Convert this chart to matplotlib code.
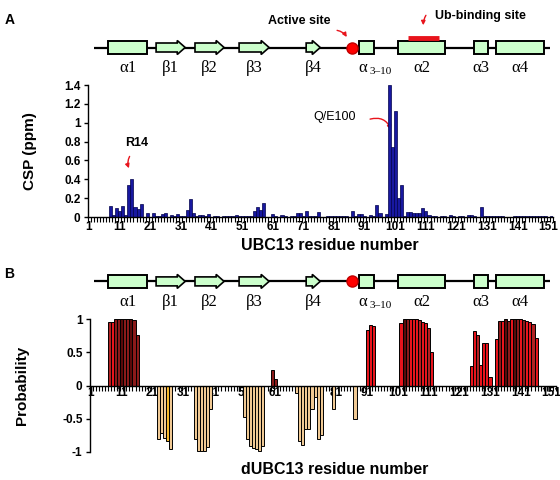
import numpy as np
import matplotlib
matplotlib.use('Agg')
import matplotlib.pyplot as plt
from matplotlib.patches import Rectangle, Polygon, FancyArrowPatch

# ---------------- data ----------------
residues = np.arange(1, 153)

csp_values = [
    0, 0, 0, 0, 0, 0, 0,
    0.12, 0.02, 0.10, 0.06, 0.12, 0.02, 0.34, 0.40, 0.11, 0.085,
    0.14, 0.0, 0.045, 0.0, 0.045, 0.015, 0.01, 0.03, 0.045, 0.0,
    0.025, 0.01, 0.035, 0.01, 0.01, 0.075, 0.19, 0.045, 0.01, 0.02,
    0.02, 0.01, 0.035, 0.0, 0.01, 0.01, 0.0, 0.01, 0.01, 0.01,
    0.01, 0.02, 0.01, 0.01, 0.01, 0.01, 0.01, 0.06, 0.105, 0.07,
    0.15, 0.0, 0.0, 0.035, 0.01, 0.0, 0.02, 0.01, 0.0, 0.01,
    0.01, 0.04, 0.04, 0.01, 0.06, 0.015, 0.015, 0.015, 0.05, 0.0,
    0.0, 0.01, 0.01, 0.015, 0.01, 0.01, 0.01, 0.01, 0.0, 0.06,
    0.01, 0.035, 0.035, 0.01, 0.0, 0.02, 0.01, 0.13, 0.04, 0.0,
    0.03, 1.40, 0.74, 1.12, 0.20, 0.34, 0.01, 0.05, 0.05, 0.04,
    0.04, 0.04, 0.10, 0.06, 0.02, 0.01, 0.01, 0.0, 0.01, 0.01,
    0.0, 0.02, 0.01, 0.0, 0.01, 0.01, 0.0, 0.02, 0.02, 0.01,
    0.0, 0.11, 0.01, 0.01, 0.01, 0.01, 0.01, 0.01, 0.01, 0.0,
    0.0, 0.0, 0.01, 0.01, 0.01, 0.01, 0.01, 0.01, 0.01, 0.01,
    0.01, 0.01, 0.01, 0.0, 0.01,
]

prob_values = (
    [0] * 6
    + [0.95, 0.95, 1, 1, 1, 1, 1, 1, 0.98, 0.76]
    + [0] * 6
    + [-0.81, -0.72, -0.79, -0.84, -0.96]
    + [0] * 7
    + [-0.81, -0.99, -0.99, -0.99, -0.92, -0.35]
    + [0] * 10
    + [-0.47, -0.80, -0.91, -0.94, -0.95, -0.98, -0.91]
    + [0] * 2
    + [0.24, 0.10]
    + [0] * 6
    + [-0.11, -0.84, -0.89, -0.65, -0.66, -0.35, -0.17, -0.80, -0.74]
    + [0] * 3
    + [-0.35]
    + [0] * 6
    + [-0.50]
    + [0] * 3
    + [0.84, 0.91, 0.90]
    + [0] * 8
    + [0.94, 1, 1, 1, 1, 1, 0.98, 0.95, 0.94, 0.86, 0.51]
    + [0] * 12
    + [0.30, 0.82, 0.76, 0.31, 0.64, 0.64, 0.125]
    + [0] * 1
    + [0.70, 0.97, 0.97, 1, 0.97, 1, 1, 1, 1, 0.98, 0.97, 0.96, 0.93, 0.71]
    + [0] * 6
)

prob_color_codes = (
    '......' + 'brmmdmmdmm' + '......' + 'tttgt' + '.......' + 'tttttt'
    + '..........' + 'ttttttt' + '..' + 'mm' + '......' + 'ttttttttt'
    + '...' + 't' + '......' + 't' + '...' + 'rrr' + '........'
    + 'rdmrrrbrrbr' + '............' + 'rrbrrrr' + '.'
    + 'rmrdmrdmrmrrbr' + '......'
)

x_tick_positions = list(range(1, 152, 10))
x_tick_labels = [str(v) for v in x_tick_positions]
csp_yticks = [0, 0.2, 0.4, 0.6, 0.8, 1.0, 1.2, 1.4]
csp_ytick_labels = ['0', '0.2', '0.4', '0.6', '0.8', '1', '1.2', '1.4']
prob_yticks = [-1, -0.5, 0, 0.5, 1]
prob_ytick_labels = ['-1', '-0.5', '0', '0.5', '1']

# secondary structure (residue units)
ss_labels = ['α1', 'β1', 'β2', 'β3', 'β4', 'α', 'α2', 'α3', 'α4']
ss_kinds = ['helix', 'strand', 'strand', 'strand', 'strand', 'helix', 'helix', 'helix', 'helix']
ss_start = [7.2, 22.9, 35.6, 50.0, 71.9, 89.2, 102.0, 126.8, 134.0]
ss_end = [20.0, 32.4, 45.1, 59.8, 76.5, 94.1, 117.3, 131.4, 149.7]
active_site_residue = 86.9
ub_site_range = [105.2, 115.4]
chain_range = [2.5, 151.5]

# ---------------- styling ----------------
plt.rcParams['font.family'] = ['Liberation Sans', 'DejaVu Sans']
palette = {'r': '#E8141C', 'm': '#8B1A1A', 'd': '#5A0A0A', 'b': '#B22222',
           't': '#F0C994', 'g': '#F5B82E', '.': 'none'}
SERIF = ['Liberation Serif', 'DejaVu Serif']
RED = '#E8141C'

W, H = 560, 480
fig = plt.figure(figsize=(W / 100, H / 100), dpi=100)
fig.patch.set_facecolor('white')


def px_axes(x0, x1, y0, y1):
    return fig.add_axes([x0 / W, 1 - y1 / H, (x1 - x0) / W, (y1 - y0) / H])


def fig_text(x, y, s, **kw):
    fig.text(x / W, 1 - y / H, s, **kw)


XLIM = (0.5, 152.5)


def style_axis(ax, yticks, ylabels, xpad):
    ax.set_xlim(*XLIM)
    for s in ['top', 'right']:
        ax.spines[s].set_visible(False)
    for s in ['left', 'bottom']:
        ax.spines[s].set_linewidth(1.0)
    ax.set_yticks(yticks)
    ax.set_yticklabels(ylabels)
    ax.set_xticks(x_tick_positions)
    ax.set_xticklabels(x_tick_labels)
    ax.set_xticks(np.arange(0.5, 153, 1), minor=True)
    ax.tick_params(axis='x', which='major', length=0, pad=xpad, labelsize=8.5)
    ax.tick_params(axis='x', which='minor', length=3.5, width=0.8, direction='out')
    ax.tick_params(axis='y', which='major', length=3, width=1, pad=2, labelsize=8.5)
    for lab in ax.get_xticklabels() + ax.get_yticklabels():
        lab.set_fontweight('bold')


# ---------------- Panel A ----------------
axA = px_axes(87.5, 553, 85, 217)
axA.bar(residues, csp_values, width=1.0, color='#1818a0', edgecolor='#00004a',
        linewidth=0.5, zorder=2)
axA.set_ylim(0, 1.4)
style_axis(axA, csp_yticks, csp_ytick_labels, xpad=3)

axA.text(16.4, 0.785, 'R14', ha='center', va='center', fontsize=9, fontweight='bold')
axA.add_patch(FancyArrowPatch((14.7, 0.668), (14.4, 0.49), arrowstyle='-|>',
                              mutation_scale=6, color=RED, lw=1,
                              connectionstyle='arc3,rad=0.3'))
axA.text(81.1, 1.06, 'Q/E100', ha='center', va='center', fontsize=9)
axA.add_patch(FancyArrowPatch((91.9, 1.03), (99.9, 0.9), arrowstyle='-|>',
                              mutation_scale=6, color=RED, lw=1,
                              connectionstyle='arc3,rad=-0.5'))

fig_text(330, 246, 'UBC13 residue number', ha='center', va='center',
         fontsize=11.5, fontweight='bold')
fig_text(30, 151, 'CSP (ppm)', ha='center', va='center', rotation=90,
         fontsize=11, fontweight='bold')

# ---------------- Panel B ----------------
axB = px_axes(89.5, 556, 319, 452)
axB.bar(residues, prob_values, width=1.0,
        color=[palette[c] for c in prob_color_codes],
        edgecolor='black', linewidth=0.7, zorder=2)
axB.set_ylim(-1, 1)
axB.spines['bottom'].set_position(('data', 0))
style_axis(axB, prob_yticks, prob_ytick_labels, xpad=1)
axB.set_axisbelow(True)

fig_text(335, 469, 'dUBC13 residue number', ha='center', va='center',
         fontsize=11.5, fontweight='bold')
fig_text(22, 385, 'Probability', ha='center', va='center', rotation=90,
         fontsize=11, fontweight='bold')


# ---------------- secondary structure diagrams ----------------
def draw_diagram(y0, y1, yline, ylab, ub=False):
    ax = px_axes(87.5, 553, y0, y1)
    ax.set_xlim(*XLIM)
    ax.set_ylim(y1, y0)
    ax.axis('off')
    ax.plot(chain_range, [yline, yline], color='black', lw=1.6, zorder=1,
            solid_capstyle='butt')
    for lab, kind, s, e in zip(ss_labels, ss_kinds, ss_start, ss_end):
        if kind == 'helix':
            ax.add_patch(Rectangle((s, yline - 6.5), e - s, 13, facecolor='#CCFFCC',
                                   edgecolor='black', lw=1.4, zorder=2))
        else:
            head = 2.6
            pts = [(s, yline - 4.5), (e - head, yline - 4.5), (e - head, yline - 7),
                   (e, yline), (e - head, yline + 7), (e - head, yline + 4.5),
                   (s, yline + 4.5)]
            ax.add_patch(Polygon(pts, closed=True, facecolor='#CCFFCC',
                                 edgecolor='black', lw=1.2, zorder=2))
        cx = (s + e) / 2
        if lab == 'α':
            ax.text(s + 1.3, ylab, 'α', ha='center', va='center', fontsize=12,
                    family=SERIF)
            ax.text(s + 6.9, ylab + 3.5, '3–10', ha='center', va='center',
                    fontsize=8, family=SERIF)
        else:
            ax.text(cx, ylab, lab, ha='center', va='center', fontsize=12,
                    family=SERIF)
    ax.plot([active_site_residue], [yline], 'o', ms=8, mfc='#FF0000',
            mec='#C00000', mew=1, zorder=3)
    if ub:
        ax.plot(ub_site_range, [yline - 10, yline - 10], color='#E8141C', lw=3.5,
                solid_capstyle='butt', zorder=3)
    return ax


dA = draw_diagram(0, 80, 47.5, 68, ub=True)
dA.text(69.6, 20.5, 'Active site', ha='center', va='center', fontsize=9,
        fontweight='bold')
dA.add_patch(FancyArrowPatch((81.1, 30), (85.6, 39.5), arrowstyle='-|>',
                             mutation_scale=6, color=RED, lw=1,
                             connectionstyle='arc3,rad=-0.3'))
dA.text(128.8, 16, 'Ub-binding site', ha='center', va='center', fontsize=9,
        fontweight='bold')
dA.add_patch(FancyArrowPatch((111.5, 13), (110.2, 28), arrowstyle='-|>',
                             mutation_scale=6, color=RED, lw=1,
                             connectionstyle='arc3,rad=0.2'))

dB = draw_diagram(255, 315, 281.4, 302)

fig_text(10, 19.5, 'A', ha='center', va='center', fontsize=10, fontweight='bold')
fig_text(9, 273.5, 'B', ha='center', va='center', fontsize=10, fontweight='bold')

fig.savefig('out.png', dpi=100, facecolor='white')
